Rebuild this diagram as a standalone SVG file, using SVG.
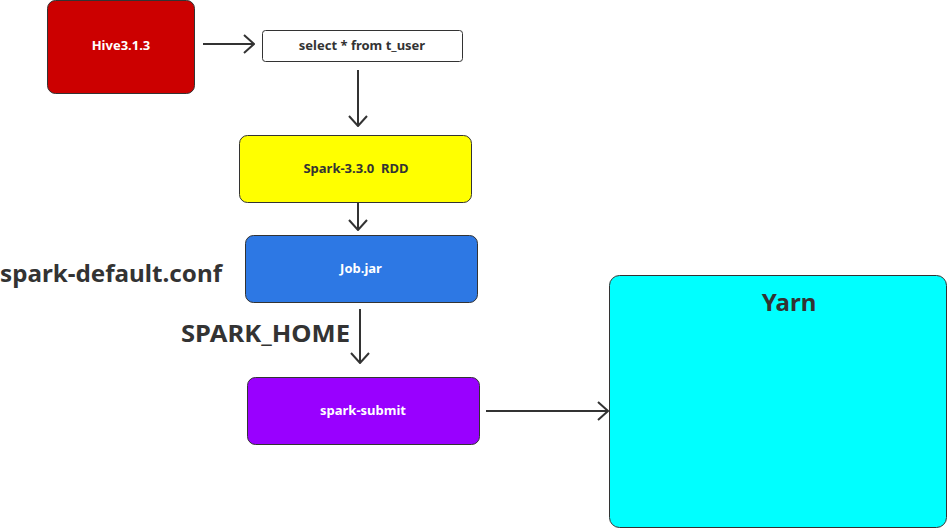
<svg xmlns="http://www.w3.org/2000/svg" width="948" height="529" viewBox="0 0 948 529">
<style>
.box{stroke:#333;stroke-width:1}
.t{font-family:"Noto Sans","Open Sans",sans-serif;font-weight:bold;font-size:13px;text-anchor:middle;dominant-baseline:central}
.w{fill:#fff}
.d{fill:#333}
.big{font-family:"Noto Sans","Open Sans",sans-serif;font-weight:bold;font-size:24px;fill:#333}
.c{stroke:#333;stroke-width:2;fill:none}
</style>
<defs>
<marker id="arr" viewBox="0 0 12 20" refX="11" refY="10" markerWidth="12" markerHeight="20" markerUnits="userSpaceOnUse" orient="auto">
<path d="M1,1 L11,10 L1,19" fill="none" stroke="#333" stroke-width="2"/>
</marker>
</defs>
<rect width="948" height="529" fill="#fff"/>
<g id="connectors">
<line class="c" x1="203" y1="44" x2="254" y2="44" marker-end="url(#arr)"/>
<line class="c" x1="358" y1="70" x2="358" y2="126" marker-end="url(#arr)"/>
<line class="c" x1="358" y1="187" x2="358" y2="230" marker-end="url(#arr)"/>
<line class="c" x1="360" y1="309" x2="360" y2="363" marker-end="url(#arr)"/>
<line class="c" x1="486" y1="411" x2="608" y2="411" marker-end="url(#arr)"/>
</g>
<g id="hive">
<rect class="box" x="47.5" y="0.5" width="147" height="93" rx="8" fill="#CC0000"/>
<text class="t w" x="121" y="45">Hive3.1.3</text>
</g>
<g id="select">
<rect class="box" x="262.5" y="30.5" width="200" height="31" rx="3" fill="#fff"/>
<text class="t d" x="362" y="45">select * from t_user</text>
</g>
<g id="spark">
<rect class="box" x="239.5" y="135.5" width="232" height="67" rx="8" fill="#FFFF00"/>
<text class="t d" x="356" y="168" xml:space="preserve">Spark-3.3.0  RDD</text>
</g>
<g id="job">
<rect class="box" x="245.5" y="235.5" width="232" height="67" rx="8" fill="#2D78E4"/>
<text class="t w" x="361" y="268">Job.jar</text>
</g>
<g id="submit">
<rect class="box" x="247.5" y="377.5" width="232" height="67" rx="8" fill="#9900FF"/>
<text class="t w" x="363" y="410">spark-submit</text>
</g>
<g id="yarn">
<rect class="box" x="609.5" y="275.5" width="337" height="252" rx="10" fill="#00FFFF"/>
<text class="big" x="789" y="311" text-anchor="middle">Yarn</text>
</g>
<g id="labels">
<text class="big" x="0" y="282" textLength="222" lengthAdjust="spacingAndGlyphs">spark-default.conf</text>
<text class="big" x="181" y="342" font-size="25" textLength="169" lengthAdjust="spacingAndGlyphs">SPARK_HOME</text>
</g>
</svg>
